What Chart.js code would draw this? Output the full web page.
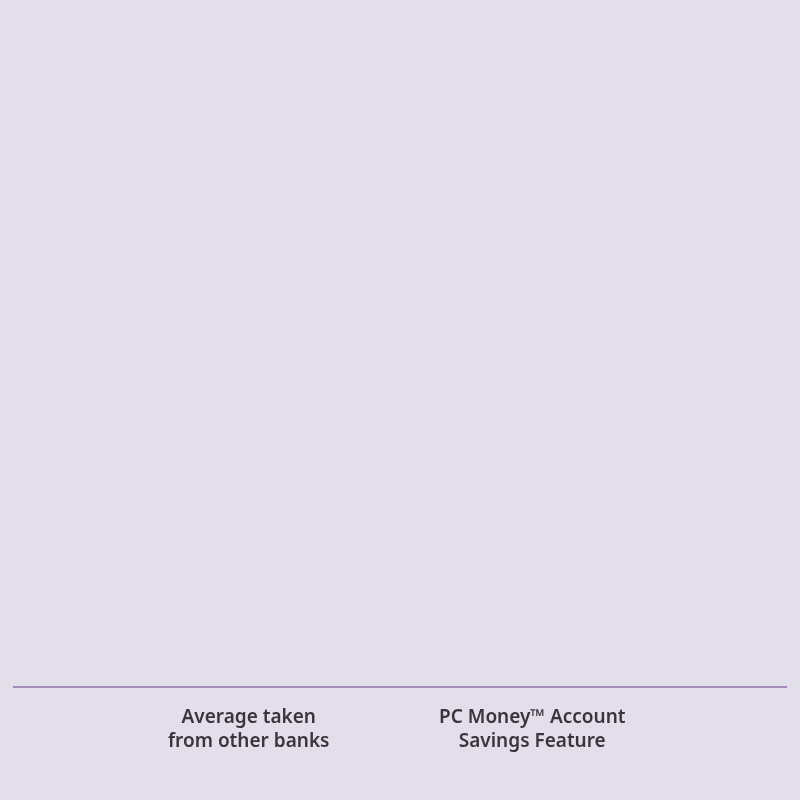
<!DOCTYPE html>
<html>
<head>
<meta charset="utf-8">
<script src="https://cdn.jsdelivr.net/npm/chart.js@4"></script>
<style>
html,body{margin:0;padding:0;background:#e3dfea;}
#wrap{width:800px;height:800px;}
</style>
</head>
<body>
<div id="wrap"><canvas id="graph1"></canvas></div>
<script>
// categories and values (the bars show no height in the picture)
const categories = [["Average taken","from other banks"],["PC Money\u2122 Account","Savings Feature"]];
const savings = [0, 0];

// baseline goes edge to edge, wider than the plot area
const baseline = {
  id: "baseline",
  afterDraw(chart){
    const c = chart.ctx;
    const y = chart.scales.x.top;
    c.save();
    c.strokeStyle = "#a38cbd";
    c.lineWidth = 2;
    c.beginPath();
    c.moveTo(13, y);
    c.lineTo(787, y);
    c.stroke();
    c.restore();
  }
};

new Chart(document.getElementById("graph1"), {
  type: "bar",
  data: {
    labels: categories,
    datasets: [{
      label: "Savings",
      data: savings,
      backgroundColor: "#8e6bb0",
      borderWidth: 0
    }]
  },
  options: {
    responsive: true,
    maintainAspectRatio: false,
    animation: false,
    layout: { padding: { left: 107, right: 126, top: 0, bottom: 35 } },
    plugins: { legend: { display: false }, tooltip: { enabled: false } },
    scales: {
      x: {
        grid: { display: false },
        border: { display: false },
        ticks: {
          color: "#38353d",
          padding: 11,
          maxRotation: 0,
          font: { family: "'Noto Sans'", size: 19, weight: "600", lineHeight: 1.263 }
        }
      },
      y: {
        display: false,
        beginAtZero: true,
        max: 100
      }
    }
  },
  plugins: [baseline]
});
</script>
</body>
</html>
